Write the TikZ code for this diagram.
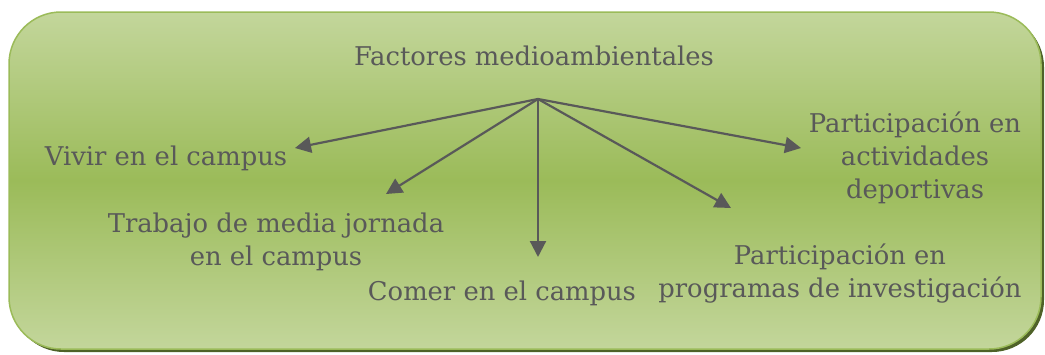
\documentclass[tikz,border=0pt]{standalone}
\usepackage{fontspec}
\setmainfont{DejaVu Serif}
\usetikzlibrary{arrows.meta}
\definecolor{txtgray}{HTML}{595959}
\definecolor{lightgreen}{HTML}{C3D69B}
\definecolor{midgreen}{HTML}{9BBB59}
\definecolor{edgegreen}{HTML}{9BBB59}
\definecolor{shadowgreen}{HTML}{4F6228}
\tikzset{
  lbl/.style={text=txtgray, font=\fontsize{25.8}{33}\selectfont, align=center, inner sep=0pt, anchor=base},
  arr/.style={draw=txtgray, line width=2.2pt, -{Triangle[length=16pt,width=16pt]}}
}
\begin{document}
\begin{tikzpicture}[x=1pt,y=-1pt]
\useasboundingbox (0,0) rectangle (1045,354);
% shadow
\fill[shadowgreen, rounded corners=52pt] (12,15) rectangle (1044,352);
% panel
\path[rounded corners=52pt, draw=edgegreen, line width=1.5pt,
  top color=lightgreen, bottom color=lightgreen, middle color=midgreen]
  (9,12) rectangle (1041,349);
% labels (anchor base = baseline of last line)
\node[lbl] (top) at (534,65) {Factores medioambientales};
\node[lbl] (vivir) at (166,165) {Vivir en el campus};
\node[lbl] (trabajo) at (276,265) {Trabajo de media jornada\\en el campus};
\node[lbl] (comer) at (502,300) {Comer en el campus};
\node[lbl] (invest) at (840,297) {Participación en\\programas de investigación};
\node[lbl] (deport) at (915,198) {Participación en\\actividades\\deportivas};
% connectors
\coordinate (src) at (538,99);
\coordinate (tVivir) at (295,148);
\coordinate (tTrabajo) at (386,194);
\coordinate (tComer) at (538,257);
\coordinate (tInvest) at (731,208);
\coordinate (tDeport) at (801,148);
\draw[arr] (src) -- (tVivir);
\draw[arr] (src) -- (tTrabajo);
\draw[arr] (src) -- (tComer);
\draw[arr] (src) -- (tInvest);
\draw[arr] (src) -- (tDeport);
\end{tikzpicture}
\end{document}
